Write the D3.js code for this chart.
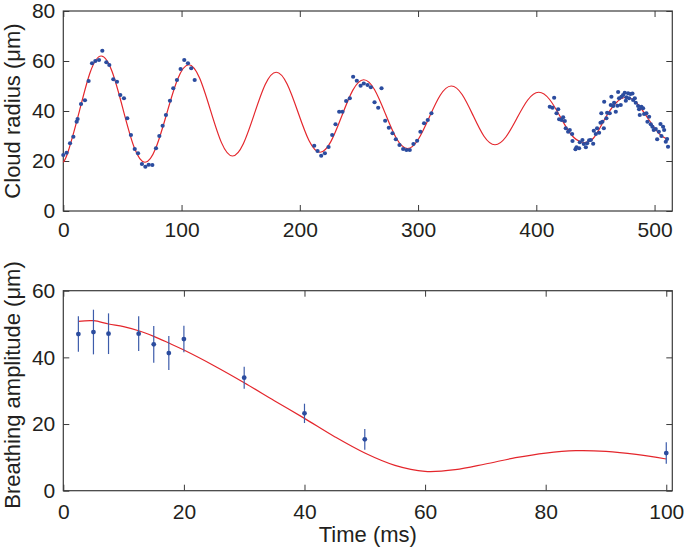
<!DOCTYPE html>
<html><head><meta charset="utf-8">
<script src="https://cdn.jsdelivr.net/npm/d3@7"></script>
<style>
html,body{margin:0;padding:0;background:#fff;}
svg{display:block;font-family:"Liberation Sans",Arial,Helvetica,sans-serif;}
</style></head>
<body>
<svg id="chart" width="685" height="548"></svg>
<script>
// ---------- Top panel data: cloud radius (µm) vs time (ms) ----------
const radiusTime = [0,2.8,5.7,8.5,11.3,12.1,15,18.3,21.4,24.3,27.1,30.2,33,36.4,38.9,42.3,45.4,48.2,51.3,54.1,57.2,60.4,63.2,66.5,69.4,72.2,75.3,78.4,81.2,84,86.8,90.2,93,96.1,99.2,102.3,105.4,108.2,111.1,
 212.2,215,218.1,221.2,224.3,227.4,230.2,233.3,236.1,239.2,242.3,245.1,248.2,251.4,254.1,257.3,260.1,263.2,266.3,269.1,272.2,275.3,278.4,281.2,284.3,287.4,290.2,293,296.1,299.2,302,305.1,308.2,311.3,
 411.4,413.7,415.1,417.1,418.5,419.3,421.3,422.7,424.1,424.9,426.9,428.3,430.3,430.6,433.1,434,436.2,436.8,439,440.2,441.9,443,444.7,446.1,448.1,448.6,450.3,451.4,453.1,454.3,455,455.9,457.1,457.4,459.3,459.9,462.1,463,463.5,465,465.8,467.2,468.6,469.2,470,471.4,472,473.4,474.8,475.7,476.2,477.6,478.5,479.6,481.3,481.9,483.3,484.1,486.1,486.9,487.5,488.9,490.3,491.2,493.1,494,495.4,496.8,498.2,499.3,501,502.2,503.6,505,505.8,507.2,508.1,509.5,510.6,511.4];
const radiusValue = [22.4,23.3,27.1,29.7,35.7,36.8,42.8,44.3,52,59.1,60,60.4,64.1,59.5,58.4,52.7,51.7,46.4,45.1,37.1,30.4,24.8,23.1,18.8,17.7,18.5,18.4,25.1,30,34.1,38.4,44.1,49.1,52.4,56.8,60.4,59.1,57.1,52.4,
 26.1,24,22.1,23.1,25.6,30.4,34.7,39.7,39.7,44,45.1,53.7,52.1,50.1,51,50.4,49.5,43.5,41.3,49.1,36.1,33.3,31.1,28.7,26.4,24.8,24.4,24.4,26.8,28.1,31.7,35.1,36.4,39.1,
 41.7,41.3,45.3,39.1,40.7,36.7,36.4,37.5,36,33.1,31.7,32.4,30.8,28,24.7,25.5,25.1,27.5,28.4,26.8,25.5,27.1,28.3,28.4,26.9,32.1,30.8,33.1,31.3,35.3,39.1,35.7,33.1,43.7,37.1,39.3,39.1,42.4,45.7,42,43.3,39.7,42.1,47.6,45.1,42.4,45.7,46.4,47.3,44.1,45.5,47.1,45.1,46.8,47,44.4,45.1,43.3,42,40.7,38.4,41.7,41.1,38.8,39.1,35.7,37.7,34.7,33.7,32.4,32.8,28.7,31.7,34.8,30,33.7,32.4,27.7,28.8,25.7];

// fitted damped oscillation
const fitTime = [0,4.25,13.5,22.75,32,41.25,50.5,59.75,69,78.25,87.5,96.75,106,115.25,124.5,133.75,143,152.25,161.5,170.75,180,189.25,198.5,207.75,217,226.25,235.5,244.75,254,263.25,272.5,281.75,291,300.25,309.5,318.75,328,337.25,346.5,355.75,365,374.25,383.5,392.75,402,411.25,420.5,429.75,439,448.25,457.5,466.75,476,485.25,494.5,503.75,511];
const fitRadius = [19.5,24,39.75,55.5,62,55.8,40.75,25.7,19.5,25.2,39,52.8,58.5,53.2,40.25,27.35,22,26.9,38.75,50.6,55.5,50.8,39.5,28.2,23.5,27.75,38,48.25,52.5,48.5,38.75,29,25,28.7,37.5,46.3,50,46.6,38.25,29.9,26.5,29.6,37,44.4,47.5,44.6,37.5,30.4,27.5,29.1,36.5,42.9,45.5,43,37,31,28.6];

// ---------- Bottom panel data: breathing amplitude (µm) vs time (ms) ----------
const ampTime  = [2.5,5,7.5,12.5,15,17.5,20,30,40,50,100];
const ampValue = [47.0,47.6,47.1,47.1,43.9,41.3,45.5,33.9,23.2,15.4,11.3];
const ampError = [5.3,6.7,6.1,5.2,5.5,5.1,4.0,3.3,2.9,3.1,3.2];

const ampFitTime  = [2.5,5,7.5,10,12.5,15,17.5,20,25,30,35,40,45,50,55,60,65,70,75,80,85,90,95,100];
const ampFitValue = [50.8,51,50,49.2,48,46.3,44.3,42.2,37.5,32.4,27,21.7,16.2,11.3,7.6,5.8,6.3,8,9.9,11.3,12,11.8,10.9,9.5];

// ---------- tick values & labels ----------
const topXTicks = [0,100,200,300,400,500];
const topYTicks = [0,20,40,60,80];
const botXTicks = [0,20,40,60,80,100];
const botYTicks = [0,20,40,60];
const topYLabel = "Cloud radius (μm)";
const botYLabel = "Breathing amplitude (μm)";
const botXLabel = "Time (ms)";

// ---------- drawing ----------
const svg = d3.select("#chart");
const RED = "#e4262c", BLUE = "#2b4c9f", FRAME = "#3a3a3a", TEXT = "#231f20";
const L = 63.3, R = 672.3;

function panel(yTop, yBot, xDomain, yDomain, xt, yt, labPad) {
  const x = d3.scaleLinear().domain(xDomain).range([L, R]);
  const y = d3.scaleLinear().domain(yDomain).range([yBot, yTop]);
  const g = svg.append("g");
  const fontSize = "21px";
  const ax = g.append("g").attr("transform", `translate(0,${yBot})`)
    .call(d3.axisBottom(x).tickValues(xt).tickSize(-6).tickPadding(labPad).tickFormat(d3.format("d")));
  const ay = g.append("g").attr("transform", `translate(${L},0)`)
    .call(d3.axisLeft(y).tickValues(yt).tickSize(-6).tickPadding(8).tickFormat(d3.format("d")));
  const at = g.append("g").attr("transform", `translate(0,${yTop})`)
    .call(d3.axisTop(x).tickValues(xt).tickSize(-6).tickFormat(""));
  const ar = g.append("g").attr("transform", `translate(${R},0)`)
    .call(d3.axisRight(y).tickValues(yt).tickSize(-6).tickFormat(""));
  [ax, ay, at, ar].forEach(a => {
    a.select(".domain").remove();
    a.selectAll("line").attr("stroke", FRAME).attr("stroke-width", 1);
    a.selectAll("text").attr("fill", TEXT).style("font-size", fontSize)
      .style("font-family", '"Liberation Sans",Arial,Helvetica,sans-serif');
  });
  g.append("rect").attr("x", L).attr("y", yTop).attr("width", R - L).attr("height", yBot - yTop)
    .attr("fill", "none").attr("stroke", FRAME).attr("stroke-width", 1.2);
  return {g, x, y};
}

// top panel
const P1 = panel(11, 211, [0, 515], [0, 80], topXTicks, topYTicks, 11.5);
P1.g.append("path")
  .datum(fitTime.map((t, i) => [t, fitRadius[i]]))
  .attr("fill", "none").attr("stroke", RED).attr("stroke-width", 1.2)
  .attr("d", d3.line().x(d => P1.x(d[0])).y(d => P1.y(d[1])).curve(d3.curveNatural));
P1.g.append("g").selectAll("circle")
  .data(radiusTime.map((t, i) => [t, radiusValue[i]]))
  .join("circle")
  .attr("cx", d => P1.x(d[0])).attr("cy", d => P1.y(d[1])).attr("r", 2.1).attr("fill", BLUE);

// bottom panel
const P2 = panel(290.7, 490.7, [0, 101], [0, 60], botXTicks, botYTicks, 13);
P2.g.append("path")
  .datum(ampFitTime.map((t, i) => [t, ampFitValue[i]]))
  .attr("fill", "none").attr("stroke", RED).attr("stroke-width", 1.2)
  .attr("d", d3.line().x(d => P2.x(d[0])).y(d => P2.y(d[1])).curve(d3.curveCatmullRom.alpha(0.5)));
const pts = ampTime.map((t, i) => ({t, v: ampValue[i], e: ampError[i]}));
P2.g.append("g").selectAll("line")
  .data(pts).join("line")
  .attr("x1", d => P2.x(d.t)).attr("x2", d => P2.x(d.t))
  .attr("y1", d => P2.y(d.v - d.e)).attr("y2", d => P2.y(d.v + d.e))
  .attr("stroke", "#3d5cab").attr("stroke-width", 1.2);
P2.g.append("g").selectAll("circle")
  .data(pts).join("circle")
  .attr("cx", d => P2.x(d.t)).attr("cy", d => P2.y(d.v)).attr("r", 2.4).attr("fill", BLUE);

// axis titles
svg.append("text").attr("transform", "translate(20,111) rotate(-90)")
  .attr("text-anchor", "middle").attr("fill", TEXT).style("font-size", "22px").text(topYLabel);
svg.append("text").attr("transform", "translate(20,385) rotate(-90)")
  .attr("text-anchor", "middle").attr("fill", TEXT).style("font-size", "22px").text(botYLabel);
svg.append("text").attr("x", (L + R) / 2).attr("y", 541.5)
  .attr("text-anchor", "middle").attr("fill", TEXT).style("font-size", "22px").text(botXLabel);
</script>
</body></html>
